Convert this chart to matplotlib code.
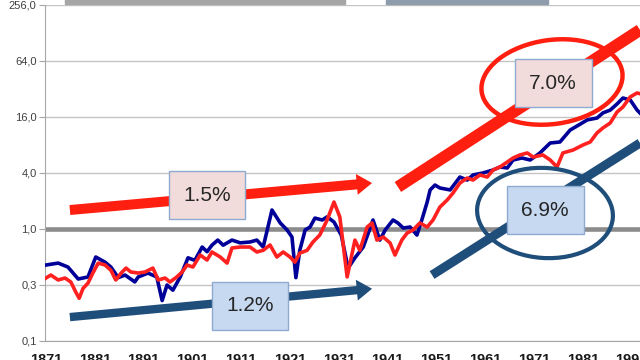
import matplotlib
matplotlib.use('Agg')
import matplotlib.pyplot as plt
from matplotlib.patches import Ellipse, Rectangle

plt.rcParams['font.family'] = ['Liberation Sans', 'DejaVu Sans']

# blue series (log scale)
blue_years = [1871.0, 1873.5, 1875.5, 1877.6, 1879.6, 1881.2, 1883.1, 1884.3, 1885.8, 1887.2,
              1889.2, 1889.9, 1891.9, 1893.7, 1894.8, 1895.8, 1897.0, 1898.5, 1900.1, 1901.5,
              1903.0, 1904.0, 1905.0, 1906.2, 1907.3, 1909.1, 1910.8, 1912.8, 1914.2, 1915.5,
              1917.3, 1919.0, 1920.4, 1921.4, 1922.2, 1923.0, 1924.1, 1925.1, 1926.1, 1927.6,
              1928.6, 1930.0, 1931.5, 1932.9, 1934.3, 1936.0, 1938.0, 1939.4, 1940.5, 1942.1,
              1943.1, 1944.2, 1945.6, 1947.0, 1948.0, 1949.1, 1949.7, 1950.7, 1951.7, 1953.8,
              1955.8, 1957.3, 1958.5, 1960.5, 1962.6, 1964.0, 1965.5, 1966.7, 1968.5, 1970.2,
              1972.2, 1974.3, 1976.3, 1978.4, 1979.8, 1981.9, 1983.9, 1985.1, 1986.6, 1988.0,
              1989.2, 1990.7, 1992.1, 1993.7]
blue_vals = [0.41, 0.43, 0.39, 0.29, 0.305, 0.50, 0.44, 0.39, 0.30, 0.32,
             0.27, 0.305, 0.336, 0.305, 0.17, 0.25, 0.22, 0.305, 0.49, 0.46,
             0.64, 0.57, 0.67, 0.76, 0.67, 0.76, 0.71, 0.725, 0.76, 0.64,
             1.60, 1.16, 0.976, 0.82, 0.30, 0.59, 0.976, 1.05, 1.31, 1.25,
             1.35, 1.19, 0.86, 0.38, 0.49, 0.64, 1.25, 0.76, 0.976, 1.25,
             1.16, 1.025, 1.05, 0.86, 1.25, 1.95, 2.63, 2.97, 2.76, 2.63,
             3.62, 3.36, 3.81, 4.0, 4.31, 4.64, 4.53, 5.52, 5.80, 5.52,
             6.57, 8.41, 8.62, 11.6, 12.8, 14.9, 15.6, 17.7, 19.0, 22.1,
             25.6, 24.4, 19.0, 15.6]

# red series
red_years = [1871.0, 1872.0, 1873.5, 1874.9, 1876.1, 1877.1, 1877.8, 1878.6, 1879.6, 1880.6,
             1881.7, 1883.1, 1884.3, 1885.3, 1886.4, 1887.4, 1888.4, 1889.9, 1891.3, 1892.9,
             1894.0, 1895.4, 1896.4, 1897.8, 1898.9, 1899.9, 1901.1, 1902.6, 1904.0, 1905.0,
             1906.7, 1908.1, 1909.1, 1910.8, 1912.8, 1914.2, 1915.5, 1916.9, 1918.3, 1919.6,
             1921.0, 1922.0, 1923.0, 1924.5, 1925.7, 1927.1, 1928.6, 1930.0, 1931.2, 1932.7,
             1934.3, 1935.3, 1936.8, 1937.8, 1938.8, 1940.1, 1941.5, 1942.5, 1943.9, 1945.0,
             1946.2, 1947.6, 1949.1, 1950.3, 1951.7, 1953.2, 1954.4, 1955.8, 1957.3, 1958.5,
             1959.9, 1961.4, 1962.6, 1964.0, 1965.5, 1966.7, 1968.1, 1969.6, 1970.8, 1972.8,
             1974.3, 1975.7, 1976.9, 1979.0, 1981.0, 1982.5, 1983.9, 1985.1, 1986.6, 1988.0,
             1989.2, 1990.7, 1992.1, 1993.7]
red_vals = [0.297, 0.32, 0.283, 0.297, 0.269, 0.21, 0.18, 0.23, 0.262, 0.336,
            0.43, 0.41, 0.36, 0.283, 0.336, 0.38, 0.345, 0.336, 0.345, 0.38,
            0.283, 0.297, 0.269, 0.305, 0.345, 0.41, 0.39, 0.525, 0.464, 0.566,
            0.50, 0.43, 0.625, 0.64, 0.64, 0.566, 0.59, 0.673, 0.50, 0.566,
            0.50, 0.44, 0.55, 0.59, 0.725, 0.862, 1.25, 1.95, 1.35, 0.305,
            0.76, 0.59, 1.05, 1.16, 0.76, 0.82, 0.707, 0.525, 0.76, 0.906,
            0.976, 1.16, 1.05, 1.25, 1.72, 2.05, 2.44, 3.12, 3.53, 3.36,
            3.81, 3.62, 4.31, 4.64, 5.25, 5.80, 6.25, 6.57, 5.94, 6.25,
            5.52, 4.64, 6.57, 7.07, 8.0, 8.62, 10.8, 12.2, 13.8, 18.1,
            20.5, 26.3, 29.0, 27.6]

y_ticks = [0.0625, 0.25, 1, 4, 16, 64, 256]
y_labels = ['0,1', '0,3', '1,0', '4,0', '16,0', '64,0', '256,0']
x_ticks = list(range(1871, 1992, 10))

# trend annotations: (start, end) in (year, value)
red_arrow = [(1875.9, 1.60), (1937.8, 3.12)]
blue_arrow = [(1875.9, 0.113), (1937.8, 0.228)]
red_trend = [(1943.1, 2.83), (1992.7, 138)]
blue_trend = [(1950.1, 0.32), (1992.7, 8.41)]

RED = '#ff1f10'
DARKBLUE = '#1f4e7a'

fig = plt.figure(figsize=(6.4, 3.6), dpi=100)
ax = fig.add_axes([45 / 640, 19 / 360, 595 / 640, 336 / 360])
ax.set_yscale('log', base=4)
ax.set_ylim(0.0625, 256)
ax.set_xlim(1870.8, 1992.7)
ax.set_yticks(y_ticks)
ax.set_yticklabels(y_labels)
ax.minorticks_off()
ax.set_xticks(x_ticks)
ax.set_xticklabels([str(t) for t in x_ticks])
ax.yaxis.grid(True, color='#c4c4c4', lw=1)
ax.set_axisbelow(True)
ax.axhline(1.0, color='#8c8c8c', lw=3.3, zorder=1.5)
for s in ['top', 'right']:
    ax.spines[s].set_visible(False)
ax.spines['left'].set_color('#a6a6a6')
ax.spines['bottom'].set_color('#a6a6a6')
ax.tick_params(axis='y', length=4, color='#a6a6a6', labelsize=8, labelcolor='#404040', pad=2)
ax.tick_params(axis='x', length=0, labelsize=10.5, labelcolor='#1a1a1a', pad=9)
for lab in ax.get_xticklabels():
    lab.set_fontweight('bold')

ax.plot(blue_years, blue_vals, color='#000099', lw=2.6, zorder=3)
ax.plot(red_years, red_vals, color='#ff2020', lw=2.6, zorder=3.1)

# arrows with heads
for (p0, p1), col, tw in [(red_arrow, RED, 0.36), (blue_arrow, DARKBLUE, 0.30)]:
    ax.annotate('', xy=p1, xytext=p0,
                arrowprops=dict(arrowstyle='simple,head_length=0.55,head_width=0.75,tail_width=%.2f' % tw,
                                mutation_scale=20, fc=col, ec='none', shrinkA=0, shrinkB=0),
                zorder=4)

# plain trend bars
ax.plot([p[0] for p in red_trend], [p[1] for p in red_trend], color=RED, lw=8.5,
        solid_capstyle='butt', zorder=4, clip_on=False)
ax.plot([p[0] for p in blue_trend], [p[1] for p in blue_trend], color=DARKBLUE, lw=6.5,
        solid_capstyle='butt', zorder=4, clip_on=False)

# ellipses (inches)
fig.add_artist(Ellipse((5.52, 2.78), 1.42, 0.84, angle=8, fill=False, ec=RED, lw=3.2,
                       transform=fig.dpi_scale_trans, zorder=5))
fig.add_artist(Ellipse((5.45, 1.47), 1.36, 0.90, angle=-4, fill=False, ec=DARKBLUE, lw=3.0,
                       transform=fig.dpi_scale_trans, zorder=5))

# labelled boxes
boxes = [('1.5%', 1904.0, 2.32, '#f2dcdb'), ('1.2%', 1912.8, 0.149, '#c6d9f1'),
         ('7.0%', 1974.9, 37.1, '#f2dcdb'), ('6.9%', 1973.3, 1.60, '#c6d9f1')]
for txt, x, y, fc in boxes:
    ax.text(x, y, txt, fontsize=15, color='#262626', ha='center', va='center', zorder=6,
            bbox=dict(boxstyle='square,pad=0.7', fc=fc, ec='#8eaad0', lw=1))

# bits of the cut-off legend at the top
fig.add_artist(Rectangle((0.65, 3.56), 2.80, 0.05, color='#a6a6a6', transform=fig.dpi_scale_trans))
fig.add_artist(Rectangle((3.86, 3.56), 1.62, 0.05, color='#8e9cab', transform=fig.dpi_scale_trans))

fig.savefig('out.png', dpi=100)
